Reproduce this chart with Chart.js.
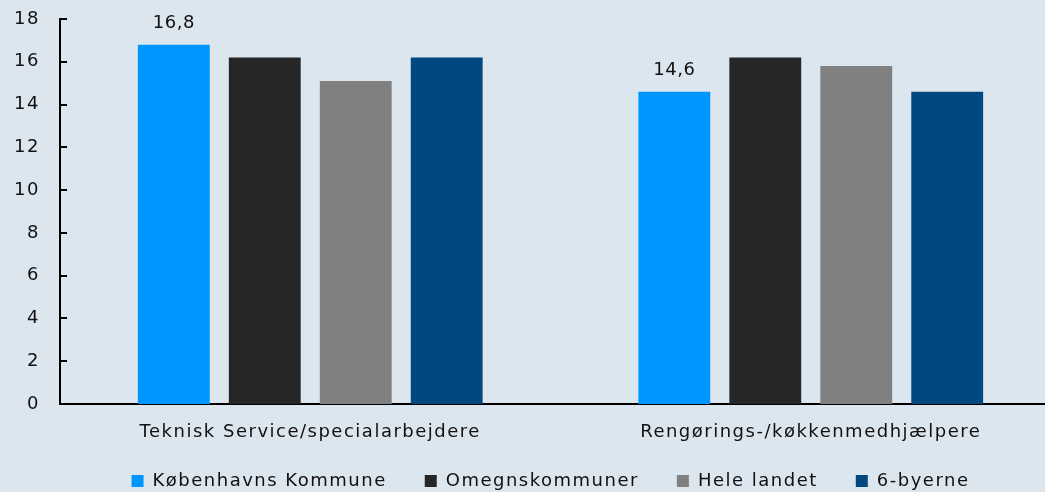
<!DOCTYPE html>
<html>
<head>
<meta charset="utf-8">
<script src="https://cdn.jsdelivr.net/npm/chart.js@4.4.1/dist/chart.umd.min.js"></script>
<style>
  html, body { margin: 0; padding: 0; background: #dce6ef; overflow: hidden; }
  #wrap { width: 1061px; height: 492px; }
</style>
</head>
<body>
<div id="wrap"><canvas id="barChart"></canvas></div>
<script>
// Chart data
const categories = ["Teknisk Service/specialarbejdere", "Rengørings-/køkkenmedhjælpere"];
const kobenhavn = [16.8, 14.6];
const omegn = [16.2, 16.2];
const heleLandet = [15.1, 15.8];
const seksByerne = [16.2, 14.6];
const yTicks = [0, 2, 4, 6, 8, 10, 12, 14, 16, 18];

const font = { family: "'DejaVu Sans', sans-serif", size: 18 };
const spacing = "1.5px";

// wider letter spacing, set before every measure/draw pass
const letterSpacing = {
  id: "letterSpacing",
  beforeUpdate(chart) { chart.ctx.letterSpacing = spacing; },
  beforeLayout(chart) { chart.ctx.letterSpacing = spacing; },
  beforeDraw(chart) { chart.ctx.letterSpacing = spacing; },
};

// short legend band, then nudge it so it overlaps the empty part of the x axis
const shortLegend = {
  id: "shortLegend",
  afterInit(chart) {
    const legend = chart.legend;
    const fit = legend.fit;
    legend.fit = function () {
      fit.call(this);
      this.height = 43;
    };
  },
  afterLayout(chart) {
    const legend = chart.legend;
    legend.top = 434;
    legend.bottom = 492;
    legend.left = 40;
    legend.right = 1061;
    legend.width = legend.right - legend.left;
    legend.adjustHitBoxes();
  },
};

// small inward tick marks on the y axis
const yTickMarks = {
  id: "yTickMarks",
  afterDraw(chart) {
    const { ctx, scales } = chart;
    const y = scales.y;
    ctx.save();
    ctx.strokeStyle = "#000";
    ctx.lineWidth = 2;
    yTicks.forEach((v) => {
      const py = Math.round(y.getPixelForValue(v));
      ctx.beginPath();
      ctx.moveTo(y.right, py);
      ctx.lineTo(y.right + 7, py);
      ctx.stroke();
    });
    ctx.restore();
  },
};

// value labels above the first series only
const valueLabels = {
  id: "valueLabels",
  afterDatasetsDraw(chart) {
    const { ctx } = chart;
    const meta = chart.getDatasetMeta(0);
    ctx.save();
    ctx.fillStyle = "#111";
    ctx.font = `${font.size}px ${font.family}`;
    ctx.letterSpacing = "0.5px";
    ctx.textAlign = "center";
    ctx.textBaseline = "middle";
    meta.data.forEach((bar, i) => {
      ctx.fillText(kobenhavn[i].toFixed(1).replace(".", ","), bar.x, bar.y - 21);
    });
    ctx.restore();
  },
};

const ctx = document.getElementById("barChart").getContext("2d");
new Chart(ctx, {
  type: "bar",
  data: {
    labels: categories,
    datasets: [
      { label: "Københavns Kommune", data: kobenhavn, backgroundColor: "#0096ff" },
      { label: "Omegnskommuner", data: omegn, backgroundColor: "#262626" },
      { label: "Hele landet", data: heleLandet, backgroundColor: "#808080" },
      { label: "6-byerne", data: seksByerne, backgroundColor: "#00487f" },
    ],
  },
  options: {
    responsive: true,
    maintainAspectRatio: false,
    animation: false,
    layout: { padding: { top: 19, left: 0, right: 0, bottom: 0 } },
    datasets: { bar: { barPercentage: 0.79, categoryPercentage: 0.727 } },
    plugins: {
      tooltip: { enabled: false },
      legend: {
        position: "bottom",
        fullSize: false,
        labels: {
          font,
          color: "#111",
          boxWidth: 12,
          boxHeight: 12,
          padding: 38,
        },
      },
    },
    scales: {
      x: {
        grid: { display: false, drawTicks: false },
        border: { display: true, color: "#000", width: 2 },
        ticks: { font, color: "#111", padding: 18 },
        afterFit: (scale) => { scale.height = 45; },
      },
      y: {
        min: 0,
        max: 18,
        grid: { display: false, drawTicks: false },
        border: { display: true, color: "#000", width: 2 },
        ticks: { font, color: "#111", stepSize: 2, padding: 20 },
        afterFit: (scale) => {
          scale.width = 60;
          scale.paddingTop = 0;
          scale.paddingBottom = 0;
        },
      },
    },
  },
  plugins: [letterSpacing, shortLegend, yTickMarks, valueLabels],
});
</script>
</body>
</html>
